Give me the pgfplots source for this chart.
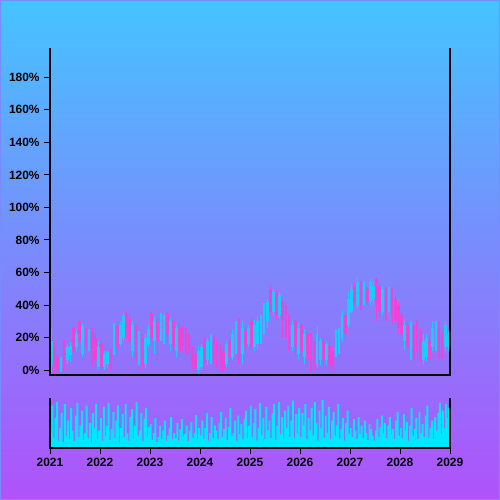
\documentclass[border=0pt]{standalone}
\usepackage{pgfplots}
\pgfplotsset{compat=1.18}
\usepackage{pgfplotstable}
\usepackage{fontspec}
\setmainfont{Liberation Sans}

\definecolor{BgTop}  {RGB}{ 68,196,255}
\definecolor{BgBot}  {RGB}{176, 82,250}
\definecolor{UpCol}  {RGB}{ 25,205,250}
\definecolor{DownCol}{RGB}{236, 68,214}
\definecolor{VolCol} {RGB}{  0,230,255}
\definecolor{Frame}  {RGB}{120,140,255}

% candle index, open, high, low, close (in %)
\pgfplotstableread{
k o h l c
0 3 26 -1 18
1 15 18 -2 2
2 8 10 -2 0
3 1 8 -1 6
4 18 19 0 3
5 6 16 4 14
6 9 17 5 15
7 26 27 10 12
8 14 24 12 22
9 30 31 16 18
10 10 29 8 27
11 24 26 13 15
12 15 25 12 23
13 24 26 2 4
14 20 22 1 6
15 2 18 0 14
16 16 18 0 2
17 2 12 0 10
18 4 12 1 11
19 12 13 0 2
20 10 29 9 26
21 28 30 12 14
22 16 30 15 28
23 20 35 18 33
24 35 36 18 20
25 32 35 16 18
26 12 30 8 28
27 26 28 5 8
28 6 24 3 22
29 20 22 0 3
30 4 22 1 20
31 16 27 14 25
32 35 36 18 20
33 18 33 10 30
34 30 32 4 18
35 20 35 18 33
36 22 34 16 32
37 35 36 20 22
38 16 32 12 30
39 30 31 10 14
40 12 28 8 26
41 26 29 8 12
42 26 28 12 15
43 24 26 10 12
44 20 22 10 12
45 14 15 0 3
46 10 12 -2 1
47 0 15 -2 12
48 2 16 0 14
49 18 20 2 4
50 6 20 3 18
51 8 22 4 20
52 20 21 4 6
53 18 20 0 2
54 14 16 -1 2
55 12 14 -2 0
56 4 18 2 16
57 18 20 5 8
58 8 25 6 22
59 14 30 10 28
60 30 32 4 10
61 10 30 4 26
62 24 26 10 14
63 16 28 14 26
64 30 32 12 14
65 14 31 12 28
66 16 33 13 30
67 20 34 16 32
68 24 41 22 38
69 30 44 26 42
70 50 52 34 36
71 36 50 33 48
72 48 49 31 34
73 34 48 32 46
74 42 44 20 30
75 38 40 20 24
76 32 34 12 16
77 14 30 12 28
78 30 31 8 14
79 10 29 7 26
80 28 29 5 12
81 8 25 4 22
82 22 24 2 6
83 20 23 -1 2
84 16 18 0 4
85 4 27 2 22
86 6 20 3 18
87 18 20 3 6
88 6 18 3 16
89 15 17 0 3
90 12 15 0 2
91 10 25 8 22
92 12 26 10 24
93 20 37 17 34
94 34 36 18 22
95 28 48 26 44
96 36 53 35 50
97 52 54 40 42
98 40 57 38 54
99 54 55 37 40
100 42 54 40 52
101 50 51 40 42
102 42 56 40 54
103 44 55 40 52
104 56 57 30 40
105 52 54 32 36
106 36 52 34 50
107 50 51 30 34
108 38 51 36 48
109 50 51 28 32
110 44 46 28 30
111 40 42 22 26
112 34 36 20 22
113 18 30 13 28
114 28 30 12 14
115 12 30 6 26
116 26 28 6 10
117 30 31 5 12
118 24 26 5 6
119 6 22 4 18
120 8 22 5 20
121 18 20 4 6
122 14 30 12 26
123 16 30 12 28
124 28 30 7 10
125 22 24 7 8
126 14 30 12 28
127 14 24 12 22
}\ohlc

% volume, 32 bars per year, scaled 0-100
\pgfplotstableread[row sep=\\]{
v\\
30\\85\\20\\60\\92\\15\\40\\70\\12\\88\\25\\55\\18\\80\\35\\14\\65\\90\\22\\45\\75\\16\\30\\85\\20\\50\\12\\70\\40\\88\\18\\35\\
60\\14\\82\\25\\45\\90\\16\\38\\72\\20\\55\\85\\12\\40\\68\\22\\88\\30\\15\\62\\78\\18\\45\\92\\25\\35\\70\\14\\58\\80\\20\\42\\
48\\16\\30\\60\\12\\22\\45\\18\\35\\55\\14\\25\\40\\62\\18\\30\\20\\50\\15\\38\\58\\22\\28\\45\\14\\35\\52\\20\\30\\66\\18\\40\\
25\\55\\18\\40\\70\\15\\30\\62\\20\\45\\35\\18\\50\\72\\22\\38\\60\\16\\42\\80\\25\\30\\55\\14\\65\\28\\48\\18\\58\\75\\20\\45\\
85\\22\\50\\78\\15\\40\\90\\25\\60\\18\\82\\35\\55\\20\\70\\88\\16\\45\\92\\28\\62\\18\\75\\40\\85\\22\\55\\95\\20\\68\\30\\80\\
22\\70\\45\\88\\18\\60\\35\\80\\25\\92\\50\\15\\75\\40\\96\\20\\65\\30\\82\\18\\55\\72\\25\\45\\88\\20\\38\\60\\15\\50\\75\\28\\
40\\22\\58\\35\\18\\62\\28\\45\\20\\55\\30\\16\\48\\38\\25\\15\\35\\58\\22\\42\\65\\30\\50\\20\\45\\62\\28\\38\\18\\55\\72\\25\\
40\\20\\68\\35\\52\\15\\45\\80\\25\\38\\60\\18\\72\\30\\48\\22\\65\\85\\20\\40\\55\\18\\62\\35\\70\\90\\28\\75\\40\\88\\60\\80\\
}\vol

\pgfplotsset{
  wick/.style={only marks, mark size=0pt, mark options={draw=none, fill=none},
    error bars/y dir=both, error bars/y explicit, error bars/error mark=none,
    error bars/error bar style={line width=0.9pt, draw=#1}},
  body/.style={only marks, mark size=0pt, mark options={draw=none, fill=none},
    error bars/y dir=both, error bars/y explicit, error bars/error mark=none,
    error bars/error bar style={line width=1.9pt, draw=#1}},
  up/.style={restrict expr to domain={\thisrow{c}-\thisrow{o}}{0:200}},
  down/.style={restrict expr to domain={\thisrow{c}-\thisrow{o}}{-200:-0.001}},
  panel/.style={
    anchor=south west, scale only axis, width=288pt,
    xmin=2021, xmax=2029,
    tick align=outside, major tick length=4pt,
    tick style={black, line width=0.7pt},
    axis line style={draw=none},
    clip=false,
    tick label style={font=\fontsize{8.6}{10}\selectfont\bfseries},
  },
}

\begin{document}
\begin{tikzpicture}
\useasboundingbox (0,0) rectangle (360pt,360pt);
\fill[top color=BgTop, bottom color=BgBot] (0,0) rectangle (360pt,360pt);
\draw[Frame, line width=0.7pt] (0.35pt,0.35pt) rectangle (359.65pt,359.65pt);

% price panel
\begin{axis}[panel,
    at={(36pt,90pt)}, height=235.44pt,
    ymin=-3, ymax=198,
    xtick=\empty,
    ytick={0,20,...,180}, ytick pos=left,
    yticklabel={\pgfmathparse{int(\tick)}\pgfmathresult\%},
]
\addplot[wick=UpCol, up] table[x expr=2021+(\thisrow{k}+0.5)/16,
    y expr=(\thisrow{h}+\thisrow{l})/2, y error expr=(\thisrow{h}-\thisrow{l})/2] \ohlc;
\addplot[body=UpCol, up] table[x expr=2021+(\thisrow{k}+0.5)/16,
    y expr=(\thisrow{o}+\thisrow{c})/2, y error expr=abs(\thisrow{c}-\thisrow{o})/2] \ohlc;
\addplot[wick=DownCol, down] table[x expr=2021+(\thisrow{k}+0.5)/16,
    y expr=(\thisrow{h}+\thisrow{l})/2, y error expr=(\thisrow{h}-\thisrow{l})/2] \ohlc;
\addplot[body=DownCol, down] table[x expr=2021+(\thisrow{k}+0.5)/16,
    y expr=(\thisrow{o}+\thisrow{c})/2, y error expr=abs(\thisrow{c}-\thisrow{o})/2] \ohlc;
\draw[line width=2pt, line join=miter] (rel axis cs:0,1) -- (rel axis cs:0,0)
    -- (rel axis cs:1,0) -- (rel axis cs:1,1);
\end{axis}

% volume panel
\begin{axis}[panel,
    at={(36pt,37.44pt)}, height=36pt,
    ymin=0, ymax=100,
    ytick=\empty,
    xtick={2021,2022,2023,2024,2025,2026,2027,2028,2029},
    xticklabels={2021,2022,2023,2024,2025,2026,2027,2028,2029},
    xtick pos=bottom,
]
\addplot[ybar, bar width=1.4pt, fill=VolCol, draw=none]
    table[x expr=2021+(\coordindex+0.5)/32, y=v] \vol;
\draw[line width=2pt, line join=miter] (rel axis cs:0,1) -- (rel axis cs:0,0)
    -- (rel axis cs:1,0) -- (rel axis cs:1,1);
\end{axis}
\end{tikzpicture}
\end{document}
